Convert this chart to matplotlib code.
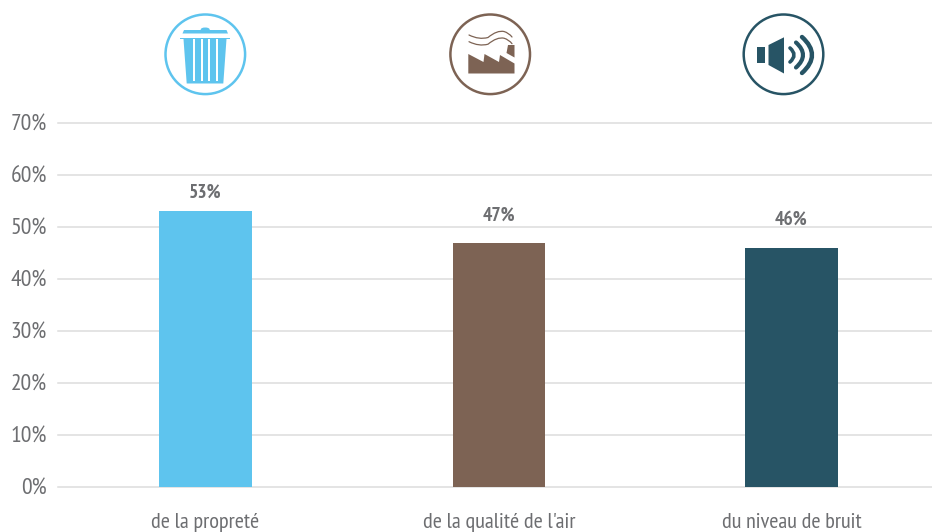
import matplotlib
matplotlib.use("Agg")
import matplotlib.pyplot as plt
from matplotlib.patches import Circle, Polygon, PathPatch, Rectangle, Ellipse
from matplotlib.path import Path

plt.rcParams['font.family'] = ['PT Sans Narrow', 'Liberation Sans', 'DejaVu Sans']

categories = ["de la propreté", "de la qualité de l'air", "du niveau de bruit"]
values = [53, 47, 46]
colors = ["#5EC4EE", "#7D6354", "#275465"]
y_ticks = [0, 10, 20, 30, 40, 50, 60, 70]
label_offsets = [13.5, 19, 20]
GREY = "#6D6E71"

W, H = 932, 532
fig = plt.figure(figsize=(W / 100, H / 100), dpi=100)
ax = fig.add_axes([58 / W, (H - 487) / H, 1 - 58 / W, 364 / H])

x = [0, 1.002, 2.0]
ax.bar(x, values, width=0.317, color=colors, zorder=3)
ax.set_xlim(-0.503, 2.48)
ax.set_ylim(0, 70)
ax.set_yticks(y_ticks)
ax.set_yticklabels([f"{v}%" for v in y_ticks], fontsize=17, color=GREY)
ax.set_xticks(x)
ax.set_xticklabels(categories, fontsize=16, color=GREY)
ax.tick_params(axis='both', length=0)
ax.tick_params(axis='x', pad=18.5)
ax.tick_params(axis='y', pad=8)
ax.grid(axis='y', color="#DCDCDC", lw=1.1, zorder=0)
ax.set_axisbelow(True)
ax.patch.set_visible(False)
for s in ax.spines.values():
    s.set_visible(False)
for l in ax.get_ygridlines():
    l.set_clip_on(False)

for xi, v, off in zip(x, values, label_offsets):
    ax.annotate(f"{v}%", (xi, v), xytext=(0, off), textcoords='offset points',
                ha='center', va='center', fontsize=14, fontweight='bold', color=GREY)

# pictograms above the bars, in pixel coordinates
ov = fig.add_axes([0, 0, 1, 1])
ov.set_xlim(0, W)
ov.set_ylim(H, 0)
ov.axis('off')


def ring(cx, color):
    ov.add_patch(Circle((cx, 54.3), 39.8, fill=False, ec=color, lw=1.8))


def curve(verts, color, lw):
    codes = [Path.MOVETO] + [Path.CURVE3] * (len(verts) - 1)
    ov.add_patch(PathPatch(Path(verts, codes), fill=False, ec=color, lw=lw, capstyle='round'))


# poubelle
c = colors[0]
ring(205.3, c)
ov.add_patch(Ellipse((205.2, 29.5), 9, 4, color=c, lw=0))
ov.add_patch(Polygon([(182.5, 33.5), (184, 30), (226.5, 30), (228, 33.5)], color=c, lw=0))
ov.add_patch(Rectangle((180, 37.7), 50, 1.6, color=c, lw=0))
ov.add_patch(Polygon([(183.5, 39), (226.5, 39), (223.3, 83.5), (186.7, 83.5)], color=c, lw=0))
for sx in (194, 201.7, 209, 216.7):
    ov.add_patch(Rectangle((sx - 1, 39), 2, 42, color="white", lw=0))

# usine
c = colors[1]
ring(490.2, c)
ov.add_patch(Polygon([(468.3, 73.5), (468.3, 54), (483.5, 62), (484.5, 54), (499, 62),
                      (500, 55), (514.5, 63.5), (514.5, 73.5)], color=c, lw=0))
ov.add_patch(Polygon([(508, 45), (514.5, 45), (514.5, 57.5), (506.5, 53)], color=c, lw=0))
for dy in (0, 6.7):
    curve([(469, 35 + dy), (479, 40 + dy), (488, 37.5 + dy),
           (497, 30 + dy), (504, 31.5 + dy), (509, 33 + dy), (512, 37 + dy)], c, 0.9)

# haut-parleur
c = colors[2]
ring(783.5, c)
ov.add_patch(Rectangle((757.3, 47.3), 7.7, 15.4, color=c, lw=0))
ov.add_patch(Polygon([(768.5, 45), (784, 37.3), (784, 73.5), (768.5, 65)], color=c, lw=0))
curve([(790, 48), (798, 55), (790, 62)], c, 2.6)
curve([(796, 42.5), (810, 55), (796, 67.5)], c, 3.0)
curve([(802, 37), (822, 55), (802, 73)], c, 3.2)

fig.savefig("out.png", dpi=100)
